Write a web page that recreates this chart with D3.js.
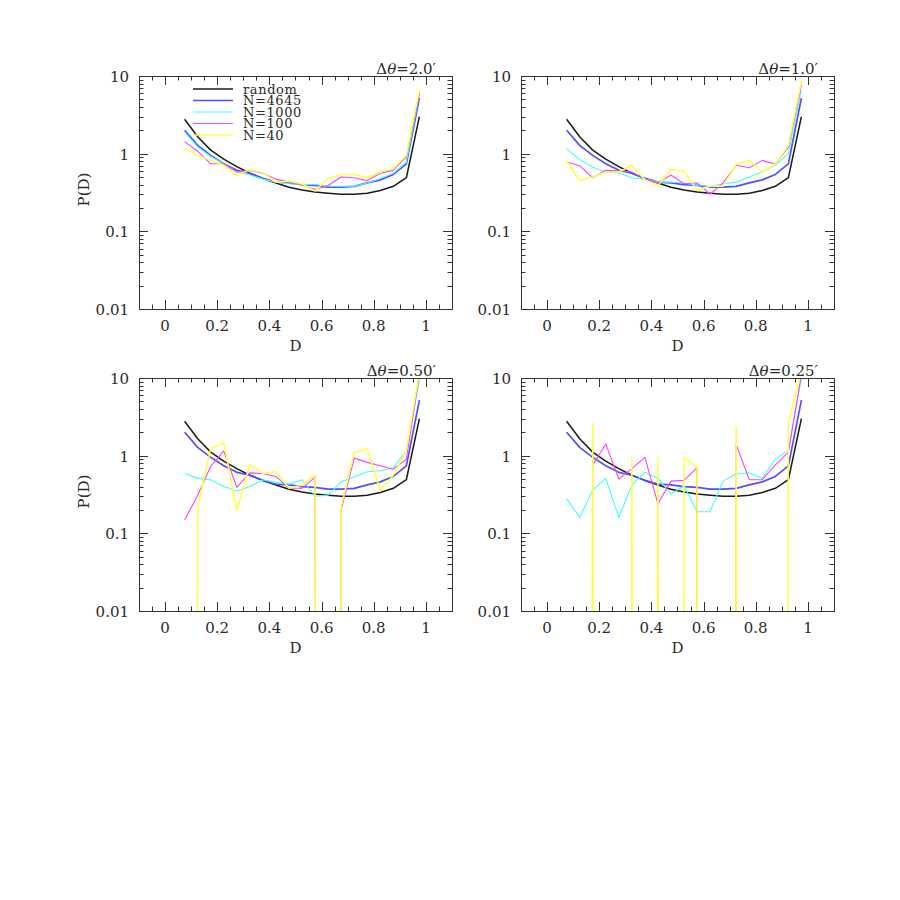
<!DOCTYPE html>
<html>
<head>
<meta charset="utf-8">
<script src="https://cdn.jsdelivr.net/npm/d3@7"></script>
<style>
  body { margin: 0; background: #fff; }
  text { font-family: "DejaVu Serif", serif; fill: #2a2a2a; }
</style>
</head>
<body>
<svg id="chart" width="900" height="900"></svg>
<script>
// bin centres in D
const binCenters = [0.075, 0.125, 0.175, 0.225, 0.275, 0.325, 0.375, 0.425, 0.475, 0.525,
  0.575, 0.625, 0.675, 0.725, 0.775, 0.825, 0.875, 0.925, 0.975];

const seriesNames = ['random', 'N=4645', 'N=1000', 'N=100', 'N=40'];
const seriesColours = ['#1a1a1a', '#5050ff', '#40ffff', '#ff40ff', '#ffff40'];
const seriesWidths = [1.5, 1.7, 1.1, 1.1, 1.5];

const panelTitles = ['2.0′', '1.0′', '0.50′', '0.25′'];
const xTicks = [0, 0.2, 0.4, 0.6, 0.8, 1];
const xTickLabels = ['0', '0.2', '0.4', '0.6', '0.8', '1'];
const yTicks = [0.01, 0.1, 1, 10];
const yTickLabels = ['0.01', '0.1', '1', '10'];

// same curves in every panel
const random = [2.78, 1.65, 1.11, 0.85, 0.68, 0.56, 0.48, 0.42, 0.37, 0.34,
  0.32, 0.31, 0.30, 0.30, 0.31, 0.335, 0.38, 0.49, 3.0];
const n4645 = [2.0, 1.28, 0.95, 0.74, 0.61, 0.56, 0.48, 0.43, 0.42, 0.40,
  0.39, 0.37, 0.37, 0.38, 0.42, 0.46, 0.54, 0.74, 5.2];

// one row per panel (dtheta = 2.0, 1.0, 0.50, 0.25); 0 = empty bin
const n1000 = [
  [1.9, 1.22, 0.92, 0.74, 0.58, 0.53, 0.47, 0.43, 0.41, 0.40, 0.40, 0.38, 0.38, 0.38, 0.42, 0.48, 0.56, 0.78, 5.9],
  [1.16, 0.84, 0.67, 0.58, 0.57, 0.49, 0.47, 0.43, 0.43, 0.42, 0.39, 0.38, 0.41, 0.43, 0.50, 0.59, 0.71, 1.0, 6.7],
  [0.59, 0.51, 0.49, 0.40, 0.35, 0.40, 0.49, 0.45, 0.43, 0.49, 0.30, 0.31, 0.46, 0.53, 0.62, 0.64, 0.70, 1.15, 9.5],
  [0.28, 0.16, 0.36, 0.51, 0.16, 0.42, 0.61, 0.51, 0.32, 0.41, 0.19, 0.19, 0.47, 0.58, 0.60, 0.51, 0.90, 1.17, 10]
];
const n100 = [
  [1.42, 1.08, 0.74, 0.74, 0.58, 0.61, 0.56, 0.47, 0.43, 0.40, 0.346, 0.39, 0.50, 0.49, 0.45, 0.56, 0.61, 0.91, 6.0],
  [0.78, 0.70, 0.49, 0.61, 0.60, 0.58, 0.47, 0.42, 0.53, 0.41, 0.42, 0.30, 0.42, 0.71, 0.66, 0.82, 0.73, 1.2, 7.6],
  [0.148, 0.31, 0.73, 1.15, 0.39, 0.60, 0.59, 0.54, 0.38, 0.38, 0.53, 0, 0.20, 0.93, 0.82, 0.74, 0.67, 0.90, 11],
  [0, 0, 0.76, 1.41, 0.50, 0.68, 0.95, 0.24, 0.47, 0.48, 0.70, 0, 0, 1.40, 0.49, 0.49, 0.76, 1.10, 11]
];
const n40 = [
  [1.2, 0.95, 0.82, 0.71, 0.525, 0.62, 0.57, 0.43, 0.44, 0.41, 0.33, 0.48, 0.54, 0.54, 0.49, 0.58, 0.64, 0.95, 6.7],
  [0.81, 0.45, 0.50, 0.58, 0.58, 0.71, 0.46, 0.39, 0.62, 0.60, 0.34, 0.38, 0.38, 0.73, 0.82, 0.58, 0.73, 1.27, 8.5],
  [0, 0.22, 1.24, 1.47, 0.20, 0.77, 0.59, 0.62, 0.38, 0.42, 0.56, 0, 0.22, 1.10, 1.23, 0.35, 0.56, 1.17, 12],
  [0, 0, 2.6, 0, 0, 0.95, 0, 0.95, 0, 0.95, 0.70, 0, 0, 2.35, 0, 0, 0, 2.6, 12]
];

const svg = d3.select('#chart');
const panelWidth = 313;
const panelHeight = 233;
const positions = [[139, 76], [521, 76], [139, 378], [521, 378]];

// log(0) is sent far below the frame, like the original plot did
const floorVal = 1e-100;

const makePanel = (parent, props) => {
  const { index, position, title, lines, showYLabel, showLegend } = props;
  const [left, top] = position;

  const g = parent.append('g')
    .attr('transform', `translate(${left},${top})`);

  const x = d3.scaleLinear().domain([-0.1, 1.1]).range([0, panelWidth]);
  const y = d3.scaleLog().domain([0.01, 10]).range([panelHeight, 0]);

  g.append('clipPath').attr('id', `clip-${index}`)
    .append('rect')
    .attr('width', panelWidth)
    .attr('height', panelHeight);

  // data lines
  const line = d3.line()
    .x((d, i) => x(binCenters[i]))
    .y(d => y(Math.max(d, floorVal)));

  g.append('g')
    .attr('clip-path', `url(#clip-${index})`)
    .selectAll('path')
    .data(lines)
    .join('path')
      .attr('fill', 'none')
      .attr('stroke', (d, i) => seriesColours[i])
      .attr('stroke-width', (d, i) => seriesWidths[i])
      .attr('stroke-linejoin', 'round')
      .attr('d', line);

  // frame
  g.append('rect')
    .attr('x', 0.5).attr('y', 0.5)
    .attr('width', panelWidth).attr('height', panelHeight)
    .attr('fill', 'none')
    .attr('stroke', '#333')
    .attr('stroke-width', 1);

  // ticks, inward on all four sides
  const ticks = g.append('g').attr('stroke', '#333').attr('stroke-width', 1);
  const xMinor = d3.range(-1, 22).map(i => i * 0.05);
  xMinor.forEach(v => {
    const major = Math.abs(v / 0.2 - Math.round(v / 0.2)) < 1e-6;
    const len = major ? 9 : 4.5;
    const px = Math.round(x(v)) + 0.5;
    ticks.append('line').attr('x1', px).attr('x2', px).attr('y1', panelHeight).attr('y2', panelHeight - len);
    ticks.append('line').attr('x1', px).attr('x2', px).attr('y1', 0).attr('y2', len);
  });
  const yMinor = [];
  [0.01, 0.1, 1].forEach(dec => d3.range(2, 10).forEach(k => yMinor.push(dec * k)));
  yMinor.forEach(v => {
    const py = Math.round(y(v)) + 0.5;
    ticks.append('line').attr('x1', 0).attr('x2', 4.5).attr('y1', py).attr('y2', py);
    ticks.append('line').attr('x1', panelWidth).attr('x2', panelWidth - 4.5).attr('y1', py).attr('y2', py);
  });
  yTicks.forEach(v => {
    const py = Math.round(y(v)) + 0.5;
    ticks.append('line').attr('x1', 0).attr('x2', 9).attr('y1', py).attr('y2', py);
    ticks.append('line').attr('x1', panelWidth).attr('x2', panelWidth - 9).attr('y1', py).attr('y2', py);
  });

  // tick labels
  g.selectAll('.x-label')
    .data(xTicks)
    .join('text')
      .attr('class', 'x-label')
      .attr('x', d => x(d))
      .attr('y', panelHeight + 22)
      .attr('text-anchor', 'middle')
      .attr('font-size', 15)
      .text((d, i) => xTickLabels[i]);

  g.selectAll('.y-label')
    .data(yTicks)
    .join('text')
      .attr('class', 'y-label')
      .attr('x', -10)
      .attr('y', d => y(d) + 6)
      .attr('text-anchor', 'end')
      .attr('font-size', 15)
      .text((d, i) => yTickLabels[i]);

  // axis titles
  g.append('text')
    .attr('x', panelWidth / 2)
    .attr('y', panelHeight + 42)
    .attr('text-anchor', 'middle')
    .attr('font-size', 15)
    .text('D');

  if (showYLabel) {
    g.append('text')
      .attr('transform', `translate(-50,${panelHeight / 2 - 3}) rotate(-90)`)
      .attr('text-anchor', 'middle')
      .attr('font-size', 15)
      .text('P(D)');
  }

  // panel title
  const t = g.append('text')
    .attr('x', panelWidth - 16)
    .attr('y', -2)
    .attr('text-anchor', 'end')
    .attr('font-size', 15);
  t.append('tspan').text('Δ');
  t.append('tspan').attr('font-style', 'italic').text('θ');
  t.append('tspan').text('=' + title);

  if (showLegend) {
    const leg = g.append('g');
    seriesNames.forEach((name, i) => {
      const ly = 13 + i * 11.5;
      leg.append('line')
        .attr('x1', 54).attr('x2', 94)
        .attr('y1', ly).attr('y2', ly)
        .attr('stroke', seriesColours[i])
        .attr('stroke-width', seriesWidths[i]);
      leg.append('text')
        .attr('x', 104)
        .attr('y', ly + 4.5)
        .attr('font-size', 13)
        .attr('letter-spacing', 0.6)
        .text(name);
    });
  }
};

panelTitles.forEach((title, i) => {
  svg.call(makePanel, {
    index: i,
    position: positions[i],
    title,
    lines: [random, n4645, n1000[i], n100[i], n40[i]],
    showYLabel: i % 2 === 0,
    showLegend: i === 0
  });
});
</script>
</body>
</html>
